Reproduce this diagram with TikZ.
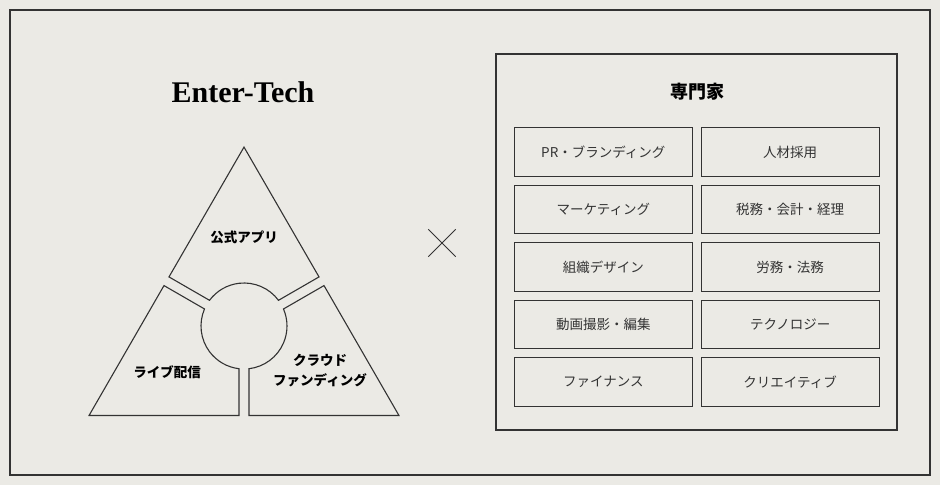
\documentclass[tikz,border=0pt]{standalone}
\usepackage{fontspec}
\usepackage{xcolor}
\usepackage{tikz}
\usetikzlibrary{calc}
\newfontfamily\jp{Noto Sans CJK JP}
\newfontfamily\titlefont{Liberation Serif}
\definecolor{paper}{HTML}{EBEAE5}
\definecolor{ink}{HTML}{333333}
\tikzset{
  cell/.style={draw=ink, line width=1.3pt, minimum width=178pt, minimum height=48.5pt,
    inner sep=0pt, font=\jp\fontsize{13.5}{16}\selectfont, text=ink},
  part/.style={draw=ink, line width=1.1pt, line join=miter},
  partlabel/.style={font=\jp\bfseries\fontsize{13.5}{20}\selectfont, align=center, text=black}
}
\begin{document}
\begin{tikzpicture}[x=1pt, y=1pt]
  \useasboundingbox (0,0) rectangle (940,485);
  \fill[paper] (0,0) rectangle (940,485);
  % khung ngoai
  \draw[ink, line width=1.6pt] (10,10) rectangle (930,475);
  % tieu de
  \node[font=\titlefont\bfseries\fontsize{30}{30}\selectfont] (title) at (243,393) {Enter-Tech};
  % tam giac chia ba phan
  \coordinate (C) at (244,159);
  \foreach \rot in {0,120,240}
  \draw[part, rotate around={\rot:(C)}]
    ($(C)+(-5,-42.71)$) -- ($(C)+(-5,-89.5)$) -- ($(C)+(210:178.9)$)
    -- ($(C)+(240:5)+(150:89.5)$) -- ($(C)+(240:5)+(150:42.71)$)
    arc[start angle=156.68, end angle=263.32, radius=43] -- cycle;
  \node[partlabel] (app) at (244,248) {公式アプリ};
  \node[partlabel] (live) at (167,113) {ライブ配信};
  \node[partlabel] (fund) at (320,114) {クラウド\\ファンディング};
  % dau nhan
  \coordinate (X) at (442,242);
  \draw[ink, line width=1pt] ($(X)+(-13.7,13.7)$) -- ($(X)+(13.7,-13.7)$)
    ($(X)+(-13.7,-13.7)$) -- ($(X)+(13.7,13.7)$);
  % khung chuyen gia
  \draw[ink, line width=1.3pt] (496,55) rectangle (897,431);
  \node[font=\jp\bfseries\fontsize{18}{20}\selectfont] (expert) at (697,393) {専門家};
  \foreach \lab [count=\i] in {PR・ブランディング, マーケティング, 組織デザイン, 動画撮影・編集, ファイナンス}
    \node[cell] (l\i) at (603.3, {333-57.5*(\i-1)}) {\lab};
  \foreach \lab [count=\i] in {人材採用, 税務・会計・経理, 労務・法務, テクノロジー, クリエイティブ}
    \node[cell] (r\i) at (790.2, {333-57.5*(\i-1)}) {\lab};
\end{tikzpicture}
\end{document}
